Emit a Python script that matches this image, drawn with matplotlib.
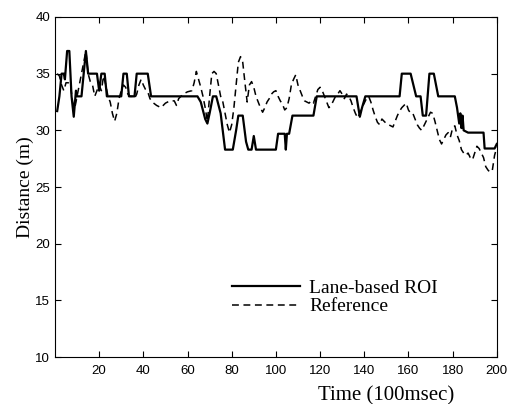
import numpy as np
import matplotlib
matplotlib.use("Agg")
import matplotlib.pyplot as plt

# Lane-based ROI (solid), breakpoints
roi_t = [1, 2, 3, 4, 4.5, 5.5, 6.5, 7.5, 8.5, 9.5, 10, 12, 13, 14, 15, 19, 20, 21, 22.5,
         23.5, 30, 31, 32.5, 33.5, 36, 37, 42, 43.5, 64.5, 66, 68, 69, 70, 71.5, 73, 75,
         77, 80.5, 82, 83, 85, 86.5, 87.5, 89, 90, 91, 100, 101, 104, 104.5, 105, 106,
         107.5, 117, 118.5, 136.5, 138, 139, 140.5, 156, 157, 161, 163.5, 165.5, 166.5,
         168, 169.5, 171.5, 173.5, 181, 182, 183, 183.5, 184, 184.5, 185, 187, 194,
         194.5, 199, 200]
roi_d = [31.7, 33, 35, 35, 34.5, 37, 37, 33, 31.2, 33.5, 33, 33, 35, 37, 35, 35, 33.5, 35, 35,
         33, 33, 35, 35, 33, 33, 35, 35, 33, 33, 32.5, 31, 30.6, 31.5, 33, 33, 31.5,
         28.3, 28.3, 30, 31.3, 31.3, 29, 28.3, 28.3, 29.5, 28.3, 28.3, 29.7, 29.7, 28.3, 29.7, 29.7,
         31.3, 31.3, 33, 33, 31.2, 32, 33, 33, 35, 35, 33, 33, 31.3,
         31.3, 35, 35, 33, 33, 32, 30.6, 31.5, 30.2, 31.3, 30, 29.8, 29.8,
         28.4, 28.4, 28.8]

# Reference (dashed)
ref_t = [1, 2, 3, 4, 5, 6, 7, 8, 9, 10, 11, 12, 13, 14, 15, 16, 17, 18, 19, 20,
         21, 22, 23, 24, 25, 26, 27, 28, 29, 30, 31, 32, 33, 34, 35, 36, 37, 38, 39, 40,
         41, 42, 43, 44, 46, 48, 50, 52, 54, 55, 56, 58, 60, 62, 63, 64, 65, 66, 67, 68,
         69, 70, 71, 72, 73, 74, 75, 76, 77, 78, 79, 80, 81, 82, 83, 84, 85, 86, 87, 88,
         89, 90, 91, 92, 93, 94, 95, 96, 97, 98, 99, 100, 101, 102, 103, 104, 105, 106, 107, 108,
         109, 110, 111, 112, 113, 114, 115, 116, 117, 118, 119, 120, 121, 122, 123, 124, 125, 126, 127, 128,
         129, 130, 131, 132, 133, 134, 135, 136, 137, 138, 139, 140, 141, 142, 143, 144, 145, 146, 147, 148,
         149, 150, 151, 152, 153, 154, 155, 156, 157, 158, 159, 160, 161, 162, 163, 164, 165, 166, 167, 168,
         169, 170, 171, 172, 173, 174, 175, 176, 177, 178, 179, 180, 181, 182, 183, 184, 185, 186, 187, 188,
         189, 190, 191, 192, 193, 194, 195, 196, 197, 198, 199, 200]
ref_d = [35, 34.8, 34, 33.5, 34.2, 34.2, 34, 32.5, 32, 33, 34, 35, 36, 37, 35, 34.3, 34, 33, 33.5, 34,
         33.5, 34.8, 34, 33, 32.5, 31.5, 30.8, 31.5, 32.8, 33.5, 34, 33.8, 33.2, 33, 33, 32.8, 33.2, 34, 34.5, 34,
         33.6, 33.4, 32.8, 32.5, 32.2, 32.0, 32.4, 32.6, 32.6, 32.2, 32.8, 33.2, 33.4, 33.5, 34.2, 35.2, 34.5, 33.8, 33, 32,
         30.8, 33, 35, 35.2, 35, 34, 33, 32.5, 31.5, 30.5, 29.8, 30.5, 32, 34, 36, 36.5, 36, 34.2, 32.5, 34,
         34.3, 33.8, 33, 32.5, 32, 31.6, 32, 32.5, 32.8, 33.2, 33.4, 33.5, 33, 32.6, 32.3, 31.8, 32, 32.8, 34, 34.5,
         34.9, 34, 33.5, 33, 32.6, 32.5, 32.4, 32.6, 32.4, 33, 33.6, 33.8, 33.5, 33, 32.5, 32, 32.2, 32.6, 33, 33.2,
         33.5, 33.2, 32.8, 33.2, 33, 32.6, 32, 31.5, 31.1, 31.5, 32, 32.4, 32.8, 33, 32.5, 31.8, 31.2, 30.7, 30.5, 31,
         30.8, 30.6, 30.5, 30.4, 30.3, 30.8, 31.3, 31.7, 32, 32.2, 32.4, 31.8, 31.5, 31.5, 31, 30.5, 30.2, 30, 30.4, 30.8,
         31.2, 31.6, 31.5, 30.8, 30, 29.2, 28.8, 29.2, 29.6, 29.8, 29.4, 30.2, 30.4, 29.6, 29.1, 28.3, 28, 27.8, 28, 27.6,
         27.4, 28, 28.6, 28.4, 28, 27.6, 26.8, 26.5, 26.3, 26.5, 27.8, 28.5]

fig = plt.figure(figsize=(5.09, 4.04), dpi=100)
ax = fig.add_axes([0.108, 0.116, 0.868, 0.842])

ax.plot(roi_t, roi_d, color="black", lw=1.6, label="Lane-based ROI")
ax.plot(ref_t, ref_d, color="black", lw=1.1, ls=(0, (4.5, 3)), label="Reference")

ax.set_xlim(0, 200)
ax.set_ylim(10, 40)
ax.set_xticks(np.arange(20, 201, 20))
ax.set_yticks(np.arange(10, 41, 5))
ax.tick_params(direction="in", top=True, right=True, length=4, labelsize=9.5)
ax.tick_params(axis="x", pad=6)
for lab in ax.get_xticklabels() + ax.get_yticklabels():
    lab.set_family("Liberation Sans")

serif = "Liberation Serif"
ax.set_ylabel("Distance (m)", fontsize=14, family=serif, labelpad=1)
ax.set_xlabel("Time (100msec)", fontsize=15, family=serif)
ax.xaxis.set_label_coords(0.75, -0.085)

ax.legend(loc="center left", bbox_to_anchor=(0.40, 0.176), frameon=False,
          borderpad=0, borderaxespad=0, handletextpad=0.5,
          prop={"family": serif, "size": 14}, handlelength=3.5, labelspacing=0.05)

fig.savefig("out.png", dpi=100)
